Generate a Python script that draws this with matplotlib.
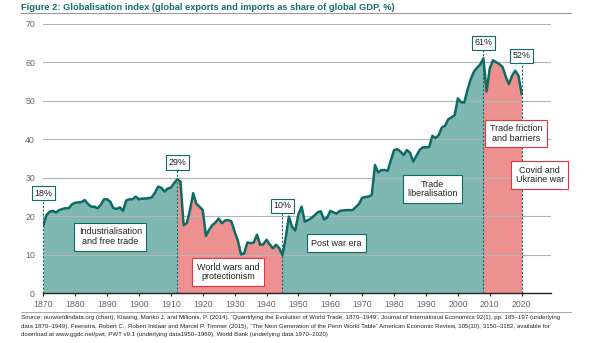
import numpy as np
import matplotlib
matplotlib.use("Agg")
import matplotlib.pyplot as plt

# ---------------------------------------------------------------------------
# Data
# ---------------------------------------------------------------------------
years = list(range(1870, 2021))
index_pct = [
    # 1870-1879
    17.5, 20.3, 21.2, 21.4, 21.0, 21.6, 21.9, 22.1, 22.1, 23.1,
    # 1880-1889
    23.5, 23.6, 23.7, 24.2, 23.2, 22.5, 22.5, 22.1, 22.9, 24.4,
    # 1890-1899
    24.4, 23.8, 22.1, 21.9, 22.3, 21.4, 24.1, 24.4, 24.4, 25.1,
    # 1900-1909
    24.4, 24.6, 24.6, 24.7, 24.9, 26.1, 27.7, 27.4, 26.4, 27.2,
    # 1910-1919
    27.4, 28.6, 29.6, 29.0, 17.7, 18.2, 21.6, 26.0, 23.2, 22.5,
    # 1920-1929
    21.6, 14.9, 16.5, 17.7, 18.4, 19.4, 18.2, 18.9, 19.0, 18.6,
    # 1930-1939
    16.0, 13.7, 10.1, 10.4, 13.2, 13.0, 13.2, 15.2, 12.6, 12.7,
    # 1940-1949
    13.9, 12.7, 11.7, 12.6, 11.7, 9.9, 14.3, 19.9, 17.3, 16.3,
    # 1950-1959
    20.5, 22.5, 18.6, 19.0, 19.5, 20.2, 21.0, 21.3, 19.2, 19.6,
    # 1960-1969
    21.4, 21.0, 20.7, 21.4, 21.5, 21.6, 21.6, 21.6, 22.4, 23.2,
    # 1970-1979
    24.8, 25.0, 25.1, 25.5, 33.3, 31.4, 32.0, 32.0, 31.8, 34.6,
    # 1980-1989
    37.2, 37.4, 36.8, 35.9, 37.2, 36.5, 34.2, 35.7, 37.2, 37.9,
    # 1990-1999
    37.9, 38.0, 40.9, 40.3, 41.1, 43.1, 43.5, 45.2, 45.7, 46.3,
    # 2000-2009
    50.6, 49.6, 49.5, 52.8, 55.5, 57.5, 58.6, 59.4, 61.0, 52.4,
    # 2010-2020
    58.4, 60.5, 60.0, 59.5, 58.8, 56.3, 54.3, 56.5, 57.8, 56.5, 51.8,
]

# eras: boundaries and fill kind
era_bounds = [1870, 1912, 1945, 2008, 2020]
era_kinds = ["teal", "red", "teal", "red"]

# highlighted values
marker_years = [1870, 1912, 1945, 2008, 2020]
marker_labels = ["18%", "29%", "10%", "61%", "52%"]
marker_label_y = [26.0, 34.0, 22.7, 65.0, 61.7]

era_texts = ["Industrialisation\nand free trade", "World wars and\nprotectionism",
             "Post war era", "Trade\nliberalisation",
             "Trade friction\nand barriers", "Covid and\nUkraine war"]
era_text_x = [1891, 1928, 1962, 1992, 2018.2, 2025.7]
era_text_y = [14.7, 5.5, 13.0, 27.1, 41.5, 30.7]
era_text_kind = ["teal", "red", "teal", "teal", "red", "red"]

title = "Figure 2: Globalisation index (global exports and imports as share of global GDP, %)"
source_lines = [
    "Source: ourworldindata.org (chart), Klasing, Mariko J. and Milionis, P. (2014). \u2018Quantifying the Evolution of World Trade, 1870\u20131949\u2019. Journal of International Economics 92(1), pp. 185\u2013197 (underlying",
    "data 1870\u20131949), Feenstra, Robert C., Robert Inklaar and Marcel P. Timmer (2015), \u201cThe Next Generation of the Penn World Table\u201d American Economic Review, 105(10), 3150\u20133182, available for",
    "download at www.ggdc.net/pwt, PWT v9.1 (underlying data1950\u20131969), World Bank (underlying data 1970\u20132020)",
]

# ---------------------------------------------------------------------------
# Styling
# ---------------------------------------------------------------------------
TEAL_LINE = "#0d6b63"
TEAL_FILL = "#7fb8b3"
RED_FILL = "#ec9190"
RED_EDGE = "#e0353a"
TITLE_COL = "#14706a"
GRID = "#b5b5b5"

plt.rcParams["font.family"] = ["Liberation Sans", "DejaVu Sans"]

x = np.array(years, dtype=float)
y = np.array(index_pct)

fig = plt.figure(figsize=(5.9, 3.43), dpi=100)
ax = fig.add_axes([43.3 / 590, 1 - 293.3 / 343, (551 - 43.3) / 590, (293.3 - 23.7) / 343])

for i, kind in enumerate(era_kinds):
    a, b = era_bounds[i], era_bounds[i + 1]
    m = (x >= a) & (x <= b)
    ax.fill_between(x[m], 0, y[m], color=TEAL_FILL if kind == "teal" else RED_FILL,
                    linewidth=0, zorder=2)

ax.plot(x, y, color=TEAL_LINE, linewidth=1.8, zorder=4, solid_joinstyle="round")

# dashed markers + value boxes
for yr, lab, ly in zip(marker_years, marker_labels, marker_label_y):
    ax.plot([yr, yr], [0, ly], color=TEAL_LINE, linestyle=(0, (2, 1.5)), linewidth=0.8, zorder=5,
            clip_on=False)
    ax.text(yr, ly, lab, ha="center", va="center", fontsize=6.4, color="#222222", zorder=6,
            bbox=dict(boxstyle="square,pad=0.3", facecolor="white", edgecolor=TEAL_LINE, linewidth=0.8))

for txt, tx, ty, kind in zip(era_texts, era_text_x, era_text_y, era_text_kind):
    ec = TEAL_LINE if kind == "teal" else RED_EDGE
    ax.text(tx, ty, txt, ha="center", va="center", fontsize=6.5, color="#222222", zorder=6,
            linespacing=1.1, clip_on=False,
            bbox=dict(boxstyle="square,pad=0.5", facecolor="white", edgecolor=ec, linewidth=0.8))

ax.set_xlim(1870, 2029.2)
ax.set_ylim(0, 70)
ax.set_yticks(range(0, 71, 10))
ax.set_xticks(range(1870, 2021, 10))
ax.yaxis.grid(True, color=GRID, linewidth=0.8, zorder=3)
ax.set_axisbelow(False)
for s in ["left", "right", "top"]:
    ax.spines[s].set_visible(False)
ax.spines["bottom"].set_color("#222222")
ax.spines["bottom"].set_linewidth(1.0)
ax.spines["bottom"].set_zorder(7)
ax.tick_params(axis="y", length=0, labelsize=6.3, labelcolor="#666666", pad=6)
ax.tick_params(axis="x", length=2.5, width=0.8, color="#222222", labelsize=6.3,
               labelcolor="#666666", pad=2)

# title + rule
fig.text(21 / 590, 1 - 7 / 343, title, ha="left", va="center", fontsize=6.7,
         fontweight="bold", color=TITLE_COL)
fig.add_artist(plt.Line2D([21 / 590, 571 / 590], [1 - 12.5 / 343] * 2, color="#9a9a9a",
                          linewidth=0.8))

# source
fig.add_artist(plt.Line2D([21 / 590, 571 / 590], [1 - 312 / 343] * 2, color="#9a9a9a",
                          linewidth=0.6))
for i, line in enumerate(source_lines):
    fig.text(21 / 590, 1 - (318 + 8.3 * i) / 343, line, ha="left", va="center",
             fontsize=4.45, color="#222222")

fig.savefig("out.png", dpi=100)
